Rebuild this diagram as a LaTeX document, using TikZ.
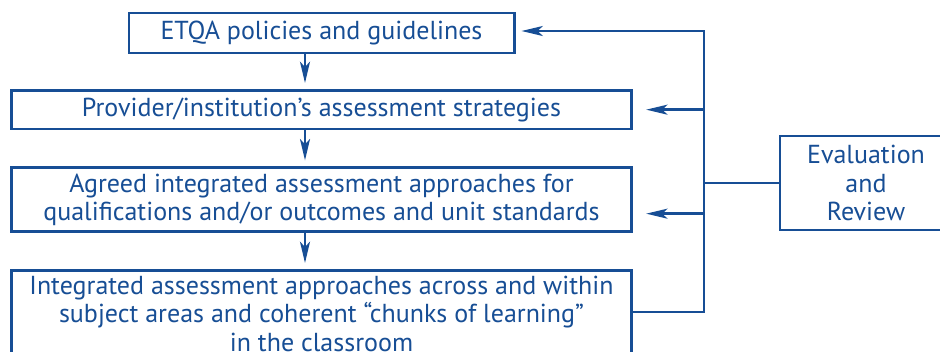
\documentclass[tikz,border=0pt]{standalone}
\usepackage{fontspec}
\setmainfont{PT Sans}
\usetikzlibrary{arrows.meta,positioning,calc}
\definecolor{navy}{HTML}{174E95}

\begin{document}
\begin{tikzpicture}[
  x=0.75pt, y=-0.75pt,
  node distance=27pt,
  box/.style={draw=navy, line width=2pt, fill=white, text=navy, align=center, inner sep=1pt, font=\fontsize{19.5}{21.3}\selectfont},
  wide/.style={box, minimum width=465pt},
  arr/.style={-{Stealth[length=16pt,width=7.5pt,inset=4pt]}, navy, line width=1.8pt},
  link/.style={navy, line width=2pt}
]
\useasboundingbox (0,0) rectangle (940,351);
\node[box, minimum width=289pt, minimum height=30pt] (etqa) at (321.5,33) {ETQA policies and guidelines};
\node[wide, below=26pt of etqa, minimum height=29pt] (provider) {Provider/institution’s assessment strategies};
\node[wide, below=of provider, minimum height=48pt] (agreed) {Agreed integrated assessment approaches for\\qualifications and/or outcomes and unit standards};
\node[wide, below=of agreed, minimum height=68pt, text depth=3pt] (classroom) {Integrated assessment approaches across and within\\subject areas and coherent “chunks of learning”\\in the classroom};
\node[box, minimum width=129pt, minimum height=70.5pt] (review) at (866,183) {Evaluation\\and\\Review};

\coordinate (spine) at (305,0);
\coordinate (bustop) at (704,31);
\coordinate (busbot) at (704,312);
\coordinate (agreedin) at ([yshift=-10.5pt]agreed.east);

\draw[arr, shorten >=4.5pt] (etqa.south -| spine) -- (provider.north -| spine);
\draw[arr, shorten >=4.5pt] (provider.south -| spine) -- (agreed.north -| spine);
\draw[arr, shorten >=4.5pt] (agreed.south -| spine) -- (classroom.north -| spine);
\draw[arr, shorten >=4.5pt] (classroom.east |- busbot) -- (busbot) -- (bustop) -- (etqa.east |- bustop);
\draw[arr, shorten >=10pt] (bustop |- provider.east) -- (provider.east);
\draw[arr, shorten >=10pt] (bustop |- agreedin) -- (agreedin);
\draw[link] (review.west) -- (bustop |- review.west);
\end{tikzpicture}
\end{document}
